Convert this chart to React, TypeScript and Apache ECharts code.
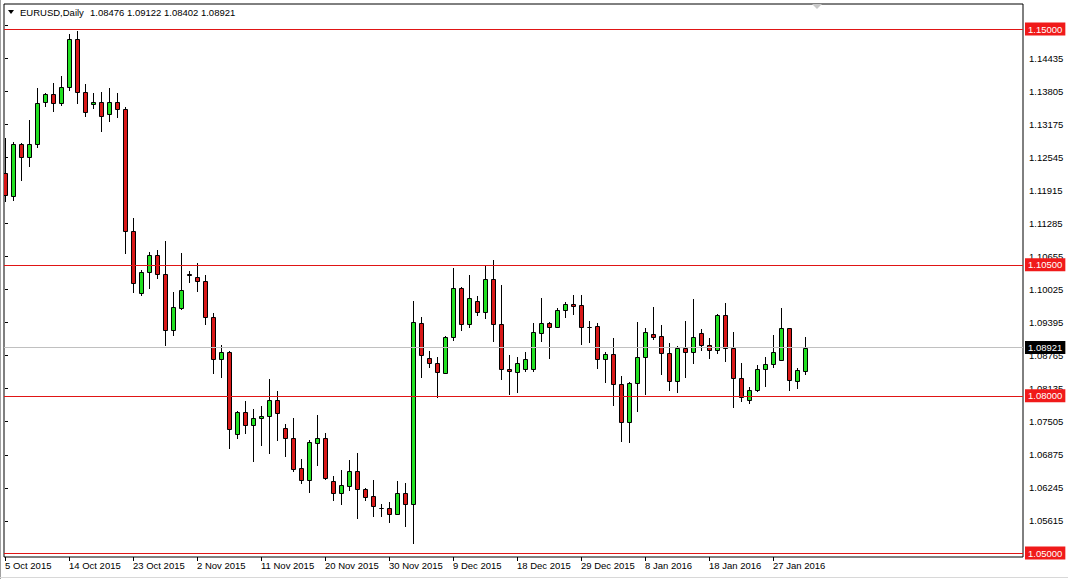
import React, { useEffect, useRef } from "react";
import * as echarts from "echarts";

const dates = [
  "5 Oct 2015", "6 Oct 2015", "7 Oct 2015", "8 Oct 2015", "9 Oct 2015", "11 Oct 2015", "12 Oct 2015", "13 Oct 2015",
  "14 Oct 2015", "15 Oct 2015", "16 Oct 2015", "18 Oct 2015", "19 Oct 2015", "20 Oct 2015", "21 Oct 2015", "22 Oct 2015",
  "23 Oct 2015", "25 Oct 2015", "26 Oct 2015", "27 Oct 2015", "28 Oct 2015", "29 Oct 2015", "30 Oct 2015", "1 Nov 2015",
  "2 Nov 2015", "3 Nov 2015", "4 Nov 2015", "5 Nov 2015", "6 Nov 2015", "8 Nov 2015", "9 Nov 2015", "10 Nov 2015",
  "11 Nov 2015", "12 Nov 2015", "13 Nov 2015", "15 Nov 2015", "16 Nov 2015", "17 Nov 2015", "18 Nov 2015", "19 Nov 2015",
  "20 Nov 2015", "22 Nov 2015", "23 Nov 2015", "24 Nov 2015", "25 Nov 2015", "26 Nov 2015", "27 Nov 2015", "29 Nov 2015",
  "30 Nov 2015", "1 Dec 2015", "2 Dec 2015", "3 Dec 2015", "4 Dec 2015", "6 Dec 2015", "7 Dec 2015", "8 Dec 2015",
  "9 Dec 2015", "10 Dec 2015", "11 Dec 2015", "13 Dec 2015", "14 Dec 2015", "15 Dec 2015", "16 Dec 2015", "17 Dec 2015",
  "18 Dec 2015", "20 Dec 2015", "21 Dec 2015", "22 Dec 2015", "23 Dec 2015", "24 Dec 2015", "27 Dec 2015", "28 Dec 2015",
  "29 Dec 2015", "30 Dec 2015", "31 Dec 2015", "3 Jan 2016", "4 Jan 2016", "5 Jan 2016", "6 Jan 2016", "7 Jan 2016",
  "8 Jan 2016", "10 Jan 2016", "11 Jan 2016", "12 Jan 2016", "13 Jan 2016", "14 Jan 2016", "15 Jan 2016", "17 Jan 2016",
  "18 Jan 2016", "19 Jan 2016", "20 Jan 2016", "21 Jan 2016", "22 Jan 2016", "24 Jan 2016", "25 Jan 2016", "26 Jan 2016",
  "27 Jan 2016", "28 Jan 2016", "29 Jan 2016", "31 Jan 2016", "1 Feb 2016",
];

const openPrices = [
  1.12246, 1.11819, 1.128, 1.12563, 1.128, 1.13601, 1.13754, 1.13582, 1.13887, 1.14803,
  1.13803, 1.13563, 1.13601, 1.13372, 1.13601, 1.13468, 1.11151, 1.09968, 1.10368, 1.10687,
  1.10319, 1.09256, 1.09681, 1.10319, 1.10273, 1.10191, 1.09498, 1.08697, 1.0883, 1.07265,
  1.07685, 1.07437, 1.07571, 1.07615, 1.07914, 1.0738, 1.07189, 1.06617, 1.06399, 1.07105,
  1.07189, 1.06368, 1.06139, 1.06285, 1.06565, 1.06216, 1.06082, 1.05865, 1.05853, 1.05739,
  1.06139, 1.05929, 1.09384, 1.08716, 1.0862, 1.08435, 1.09116, 1.10052, 1.09365, 1.09815,
  1.09605, 1.10223, 1.09365, 1.08506, 1.0846, 1.08506, 1.08506, 1.09193, 1.09384, 1.09319,
  1.09632, 1.09746, 1.09733, 1.09319, 1.09332, 1.08697, 1.08798, 1.08219, 1.07494, 1.08239,
  1.08735, 1.09179, 1.09141, 1.08811, 1.08282, 1.08907, 1.0883, 1.09193, 1.0897, 1.08868,
  1.09542, 1.08907, 1.08334, 1.0792, 1.08111, 1.08506, 1.08607, 1.08689, 1.09288, 1.08288,
  1.08476,
];

const highPrices = [
  1.12914, 1.12838, 1.12819, 1.13263, 1.13868, 1.13779, 1.13964, 1.14103, 1.14899, 1.14962,
  1.13945, 1.13773, 1.13803, 1.13868, 1.13773, 1.13517, 1.11387, 1.10401, 1.1075, 1.10782,
  1.10954, 1.09987, 1.10719, 1.10382, 1.10529, 1.10305, 1.09586, 1.0897, 1.08861, 1.0771,
  1.07901, 1.07748, 1.07805, 1.08321, 1.08092, 1.07462, 1.07576, 1.06788, 1.07157, 1.07634,
  1.07284, 1.0647, 1.06584, 1.06775, 1.06914, 1.06235, 1.06393, 1.05929, 1.05968, 1.06374,
  1.0633, 1.09815, 1.0951, 1.08861, 1.08735, 1.09141, 1.10433, 1.10076, 1.10305, 1.0991,
  1.10496, 1.10592, 1.10115, 1.08779, 1.08735, 1.0883, 1.09384, 1.09861, 1.09414, 1.0967,
  1.09796, 1.09924, 1.09924, 1.09433, 1.09384, 1.0883, 1.09109, 1.08378, 1.08269, 1.09414,
  1.09288, 1.097, 1.09351, 1.09002, 1.0895, 1.09427, 1.09847, 1.09269, 1.09097, 1.09561,
  1.09765, 1.09212, 1.0862, 1.08162, 1.08588, 1.08746, 1.0916, 1.09681, 1.09303, 1.08525,
  1.09122,
];

const lowPrices = [
  1.11704, 1.11723, 1.12105, 1.12372, 1.12723, 1.13517, 1.13422, 1.13536, 1.13823, 1.13569,
  1.13326, 1.13473, 1.1304, 1.13231, 1.13296, 1.10706, 1.09956, 1.0991, 1.10032, 1.10229,
  1.08956, 1.09147, 1.09637, 1.10158, 1.09987, 1.09351, 1.08416, 1.08334, 1.0699, 1.07181,
  1.07265, 1.06737, 1.07042, 1.06895, 1.07143, 1.06838, 1.06546, 1.06311, 1.06151, 1.06666,
  1.06393, 1.05992, 1.05916, 1.06189, 1.05655, 1.05998, 1.05681, 1.05693, 1.05578, 1.05725,
  1.05502, 1.05172, 1.08345, 1.08536, 1.07952, 1.0841, 1.09052, 1.09237, 1.093, 1.09529,
  1.09466, 1.09032, 1.08302, 1.08015, 1.08048, 1.08448, 1.0846, 1.09021, 1.08697, 1.09288,
  1.09479, 1.09542, 1.0897, 1.09013, 1.08511, 1.0825, 1.07805, 1.07124, 1.07105, 1.07697,
  1.08015, 1.09065, 1.08397, 1.08097, 1.08048, 1.08345, 1.08601, 1.08861, 1.08697, 1.08798,
  1.08651, 1.07761, 1.07887, 1.07838, 1.08067, 1.08174, 1.08525, 1.08678, 1.08097, 1.0813,
  1.08402,
];

const closePrices = [
  1.11832, 1.128, 1.12563, 1.128, 1.13582, 1.13754, 1.13582, 1.13887, 1.14803, 1.13803,
  1.13422, 1.13601, 1.13345, 1.13601, 1.13468, 1.11151, 1.10158, 1.10368, 1.10687, 1.10319,
  1.09256, 1.09689, 1.10019, 1.10313, 1.10191, 1.09498, 1.08697, 1.0883, 1.07361, 1.07685,
  1.07437, 1.07571, 1.07615, 1.07914, 1.07678, 1.07189, 1.06609, 1.06399, 1.07124, 1.07189,
  1.06437, 1.06139, 1.06292, 1.06565, 1.06216, 1.06063, 1.05891, 1.05861, 1.05739, 1.06139,
  1.05929, 1.09403, 1.08779, 1.0862, 1.08448, 1.09116, 1.10052, 1.09365, 1.09861, 1.09605,
  1.10223, 1.09365, 1.08506, 1.08468, 1.0862, 1.08697, 1.09212, 1.09384, 1.09319, 1.09632,
  1.09746, 1.0972, 1.09307, 1.09313, 1.08697, 1.08798, 1.08219, 1.07494, 1.08239, 1.08735,
  1.09212, 1.09128, 1.08811, 1.08282, 1.08907, 1.0883, 1.09116, 1.0897, 1.08868, 1.09542,
  1.08907, 1.08334, 1.07971, 1.08111, 1.08506, 1.08607, 1.08836, 1.09288, 1.08302, 1.08492,
  1.08921,
];

const priceTicks = [
  1.05615, 1.06245, 1.06875, 1.07505, 1.08135, 1.08765, 1.09395, 1.10025,
  1.10655, 1.11285, 1.11915, 1.12545, 1.13175, 1.13805, 1.14435, 1.15065,
];
const dateTickIndexes = [0, 8, 16, 24, 32, 40, 48, 56, 64, 72, 80, 88, 96];
const levelLines = [1.15, 1.105, 1.08, 1.05];
const currentPrice = 1.08921;
const headerValues = "1.08476 1.09122 1.08402 1.08921";

const FONT = "'Liberation Sans', Arial, sans-serif";
const BULL = "#22e022";
const BEAR = "#d81818";
const LEVEL_RED = "#e01515";

export default function App() {
  const ref = useRef<HTMLDivElement>(null);

  useEffect(() => {
    if (!ref.current) return;
    const chart = echarts.init(ref.current, null, { renderer: "svg" });
    const data = dates.map((d, i) => [i, openPrices[i], closePrices[i], lowPrices[i], highPrices[i]]);

    const renderItem = (params: any, api: any) => {
      const i = api.value(0);
      const o = api.value(1);
      const c = api.value(2);
      const l = api.value(3);
      const h = api.value(4);
      const po = api.coord([i, o]);
      const pc = api.coord([i, c]);
      const pl = api.coord([i, l]);
      const ph = api.coord([i, h]);
      const x = Math.round(po[0]) + 0.5;
      const top = Math.round(Math.min(po[1], pc[1])) + 0.5;
      const bottom = Math.round(Math.max(po[1], pc[1])) + 0.5;
      return {
        type: "group",
        children: [
          {
            type: "line",
            shape: { x1: x, y1: Math.round(ph[1]), x2: x, y2: Math.round(pl[1]) },
            style: { stroke: "#000", lineWidth: 1 },
          },
          {
            type: "rect",
            shape: { x: x - 2, y: top, width: 4, height: bottom - top },
            style: { fill: c >= o ? BULL : BEAR, stroke: "#000", lineWidth: 1 },
          },
        ],
      };
    };

    const markData: any[] = levelLines.map((v) => ({
      yAxis: v,
      lineStyle: { color: LEVEL_RED, width: 1, type: "solid" },
      label: { backgroundColor: "#f01a1a", color: "#fff" },
    }));
    markData.unshift({
      yAxis: currentPrice,
      lineStyle: { color: "#c0c0c0", width: 1, type: "solid" },
      label: { backgroundColor: "#000", color: "#fff" },
    });

    chart.setOption({
      animation: false,
      backgroundColor: "#fff",
      textStyle: { fontFamily: FONT },
      grid: {
        left: 4,
        top: 4,
        right: 45,
        height: 553,
        show: true,
        borderColor: "#000",
        borderWidth: 1,
        backgroundColor: "#fff",
      },
      xAxis: {
        type: "value",
        min: -0.125,
        max: 127.25,
        splitLine: { show: false },
        axisLine: { show: false },
        axisTick: { show: true, customValues: dateTickIndexes, length: 4, lineStyle: { color: "#000" } },
        axisLabel: {
          customValues: dateTickIndexes,
          formatter: (v: number) => dates[Math.round(v)] ?? "",
          align: "left",
          margin: 3,
          fontSize: 9.5,
          color: "#000",
          fontFamily: FONT,
          showMinLabel: true,
          showMaxLabel: true,
        },
      },
      yAxis: {
        type: "value",
        position: "right",
        min: 1.049237,
        max: 1.154771,
        splitLine: { show: false },
        axisLine: { show: false },
        axisTick: { show: true, customValues: priceTicks, length: 3, lineStyle: { color: "#000" } },
        axisLabel: {
          customValues: priceTicks,
          formatter: (v: number) => v.toFixed(5),
          margin: 6,
          fontSize: 9.5,
          color: "#000",
          fontFamily: FONT,
          showMinLabel: true,
          showMaxLabel: true,
        },
      },
      series: [
        {
          type: "line",
          data: [],
          z: 1,
          markLine: {
            silent: true,
            symbol: "none",
            animation: false,
            precision: 5,
            label: {
              show: true,
              position: "end",
              distance: 2,
              formatter: (p: any) => Number(p.value).toFixed(5),
              fontSize: 9.5,
              fontFamily: FONT,
              padding: [2, 3, 1, 3],
            },
            data: markData,
          },
        },
        {
          type: "custom",
          z: 3,
          clip: true,
          renderItem,
          encode: { x: 0, y: [1, 2, 3, 4] },
          data,
        },
      ],
      graphic: [
        { type: "line", shape: { x1: 0.5, y1: 0, x2: 0.5, y2: 579 }, style: { stroke: "#a0a0a0", lineWidth: 1 } },
        { type: "line", shape: { x1: 0, y1: 577.5, x2: 1068, y2: 577.5 }, style: { stroke: "#d8d8d8", lineWidth: 1 } },
        { type: "polygon", shape: { points: [[8, 10], [14, 10], [11, 14]] }, style: { fill: "#000" } },
        { type: "polygon", shape: { points: [[812, 4], [822, 4], [817, 9]] }, style: { fill: "#c8c8c8" } },
        {
          type: "text",
          x: 20,
          y: 12,
          style: { text: "EURUSD,Daily", fill: "#000", font: `9.5px ${FONT}`, textVerticalAlign: "middle" },
        },
        {
          type: "text",
          x: 90,
          y: 12,
          style: { text: headerValues, fill: "#000", font: `9.5px ${FONT}`, textVerticalAlign: "middle" },
        },
      ],
    });

    return () => chart.dispose();
  }, []);

  return (
    <div
      ref={ref}
      style={{ position: "fixed", left: 0, top: 0, width: 1068, height: 579, background: "#fff" }}
    />
  );
}
